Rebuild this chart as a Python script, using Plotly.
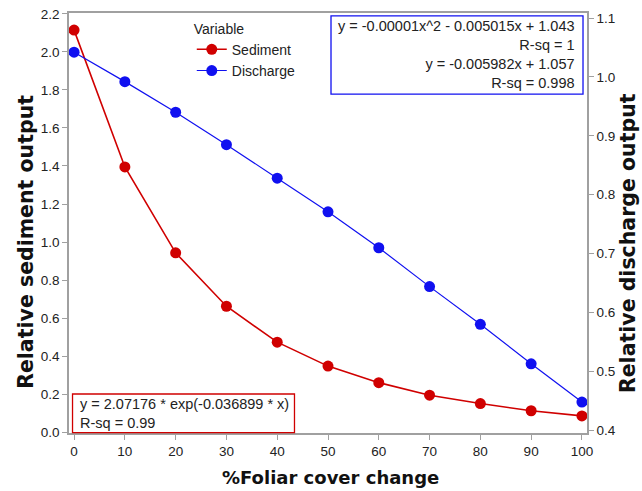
import plotly.graph_objects as go

x_vals = [0, 10, 20, 30, 40, 50, 60, 70, 80, 90, 100]
sediment = [2.115, 1.395, 0.943, 0.662, 0.473, 0.347, 0.260, 0.194, 0.150, 0.112, 0.085]
discharge = [1.042, 0.992, 0.940, 0.885, 0.828, 0.771, 0.710, 0.644, 0.580, 0.513, 0.448]
left_ticks = [0.0, 0.2, 0.4, 0.6, 0.8, 1.0, 1.2, 1.4, 1.6, 1.8, 2.0, 2.2]
right_ticks = [0.4, 0.5, 0.6, 0.7, 0.8, 0.9, 1.0, 1.1]
x_ticks = [0, 10, 20, 30, 40, 50, 60, 70, 80, 90, 100]

FONT = "Liberation Sans, Arial, sans-serif"
TFONT = "DejaVu Sans, Liberation Sans, sans-serif"
GREY = "#a0a0a0"
RED = "#d00000"
BLUE = "#1010f0"

fig = go.Figure()
fig.add_trace(go.Scatter(x=x_vals, y=sediment, name="Sediment", mode="lines+markers",
                         line=dict(color=RED, width=1.6),
                         marker=dict(color=RED, size=11)))
fig.add_trace(go.Scatter(x=x_vals, y=discharge, name="Discharge", mode="lines+markers",
                         yaxis="y2",
                         line=dict(color=BLUE, width=1.2),
                         marker=dict(color=BLUE, size=11)))

axis_common = dict(showgrid=False, zeroline=False, showline=True, linecolor=GREY, linewidth=1.6,
                   ticks="outside", tickcolor=GREY, ticklen=5, tickwidth=1.2, automargin=False,
                   tickfont=dict(size=13.5, color="#222"))

fig.update_layout(
    width=642, height=491,
    margin=dict(l=69, r=55, t=13, b=58),
    paper_bgcolor="white", plot_bgcolor="white",
    font=dict(family=FONT, size=13, color="#222"),
    xaxis=dict(range=[-1, 101], tickvals=x_ticks, mirror=True, **axis_common),
    yaxis=dict(range=[-0.005, 2.205], tickvals=left_ticks, tickformat=".1f", **axis_common),
    yaxis2=dict(range=[0.3955, 1.1085], tickvals=right_ticks, tickformat=".1f",
                overlaying="y", side="right", **axis_common),
    legend=dict(x=0.237, y=0.994, xanchor="left", yanchor="top",
                bgcolor="rgba(0,0,0,0)", font=dict(size=14, color="#222"),
                title=dict(text="Variable", font=dict(size=14, color="#222")),
                tracegroupgap=0),
    showlegend=True,
)

# axis titles
fig.add_annotation(xref="paper", yref="paper", x=-0.0831, y=0.455, textangle=-90,
                   xanchor="center", yanchor="middle",
                   text="<b>Relative sediment output</b>", showarrow=False,
                   font=dict(family=TFONT, size=20.5, color="#111"))
fig.add_annotation(xref="paper", yref="paper", x=1.079, y=0.452, textangle=-90,
                   xanchor="center", yanchor="middle",
                   text="<b>Relative discharge output</b>", showarrow=False,
                   font=dict(family=TFONT, size=20.5, color="#111"))
fig.add_annotation(xref="paper", yref="paper", x=0.5048, y=-0.1048,
                   xanchor="center", yanchor="middle",
                   text="<b>%Foliar cover change</b>", showarrow=False,
                   font=dict(family=TFONT, size=18, color="#111"))

# regression boxes
fig.add_shape(type="rect", xref="paper", yref="paper", x0=0.5058, x1=0.9923, y0=0.807, y1=0.993,
              line=dict(color=BLUE, width=1.3), fillcolor="white", layer="above")
fig.add_annotation(xref="paper", yref="paper", x=0.9807, y=0.902, xanchor="right", yanchor="middle",
                   text="y = -0.00001x^2 - 0.005015x + 1.043<br>R-sq = 1<br>y = -0.005982x + 1.057<br>R-sq = 0.998",
                   align="right", showarrow=False, font=dict(size=14.5, color="#222"))
fig.add_shape(type="rect", xref="paper", yref="paper", x0=0.0068, x1=0.4353, y0=0.001, y1=0.0929,
              line=dict(color=RED, width=1.3), fillcolor="white", layer="above")
fig.add_annotation(xref="paper", yref="paper", x=0.0174, y=0.0464, xanchor="left", yanchor="middle",
                   text="y = 2.07176 * exp(-0.036899 * x)<br>R-sq = 0.99",
                   align="left", showarrow=False, font=dict(size=14.5, color="#222"))

fig.write_html("out.html")
